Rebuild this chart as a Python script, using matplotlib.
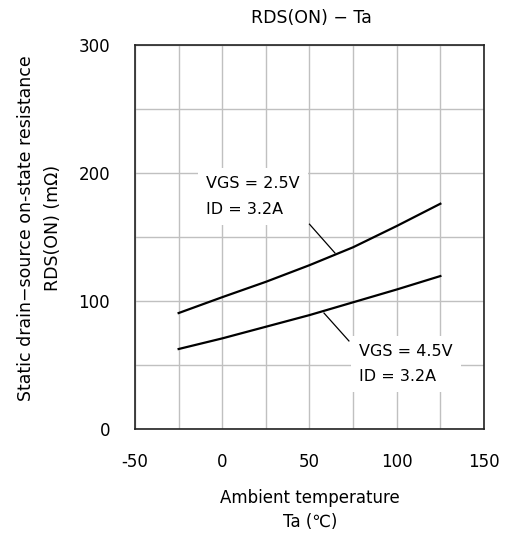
import numpy as np
import matplotlib.pyplot as plt

plt.rcParams['font.family'] = ['DejaVu Sans', 'Noto Sans CJK JP']
plt.rcParams['axes.unicode_minus'] = False

## Data
temp = [-25, 0, 25, 50, 75, 100, 125]
rds_vgs25 = [90.6, 103, 115, 128, 142, 158.6, 176]
rds_vgs45 = [62.5, 70.8, 79.9, 89, 99, 109, 119.5]

x_ticks = [-50, 0, 50, 100, 150]
y_ticks = [0, 100, 200, 300]

label_25 = "VGS = 2.5V\nID = 3.2A"
label_45 = "VGS = 4.5V\nID = 3.2A"

fig = plt.figure(figsize=(5.07, 5.41), dpi=100)
ax = fig.add_axes([0.2663, 0.207, 0.6883, 0.7098])

ax.set_xlim(-50, 150)
ax.set_ylim(0, 300)
ax.set_xticks(x_ticks)
ax.set_yticks(y_ticks)
ax.set_xticks(np.arange(-50, 151, 25), minor=True)
ax.set_yticks(np.arange(0, 301, 50), minor=True)
ax.grid(which='both', color='#c0c0c0', lw=1.0, zorder=0)
ax.tick_params(which='both', length=0)
ax.tick_params(axis='x', pad=17, labelsize=12)
ax.tick_params(axis='y', pad=18, labelsize=12)
for s in ax.spines.values():
    s.set_color('#222222')
    s.set_linewidth(1.2)

ax.plot(temp, rds_vgs25, color='black', lw=1.6, zorder=3)
ax.plot(temp, rds_vgs45, color='black', lw=1.6, zorder=3)

# leader lines
ax.plot([50, 64.6], [160, 137.5], color='black', lw=0.9, zorder=3)
ax.plot([58.3, 72.6], [90.6, 68.8], color='black', lw=0.9, zorder=3)

box = dict(facecolor='white', edgecolor='none', pad=6)
ax.text(-9.3, 181.6, label_25, fontsize=11.5, va='center', ha='left',
        linespacing=1.85, bbox=box, zorder=4)
ax.text(78.4, 50.8, label_45, fontsize=11.5, va='center', ha='left',
        linespacing=1.85, bbox=box, zorder=4)

# title as plain text so the position is fixed
ax.text(0.505, 1.0703, "RDS(ON) − Ta", fontsize=12.5, ha='center',
        va='center', transform=ax.transAxes)
ax.set_xlabel("Ambient temperature\nTa (℃)", fontsize=12, linespacing=1.4,
              va='center')
ax.xaxis.set_label_coords(0.5014, -0.211)
ax.set_ylabel("Static drain−source on-state resistance\nRDS(ON) (mΩ)",
              fontsize=12.5, linespacing=1.65, va='center')
ax.yaxis.set_label_coords(-0.2735, 0.523)

fig.savefig("out.png", dpi=100)
